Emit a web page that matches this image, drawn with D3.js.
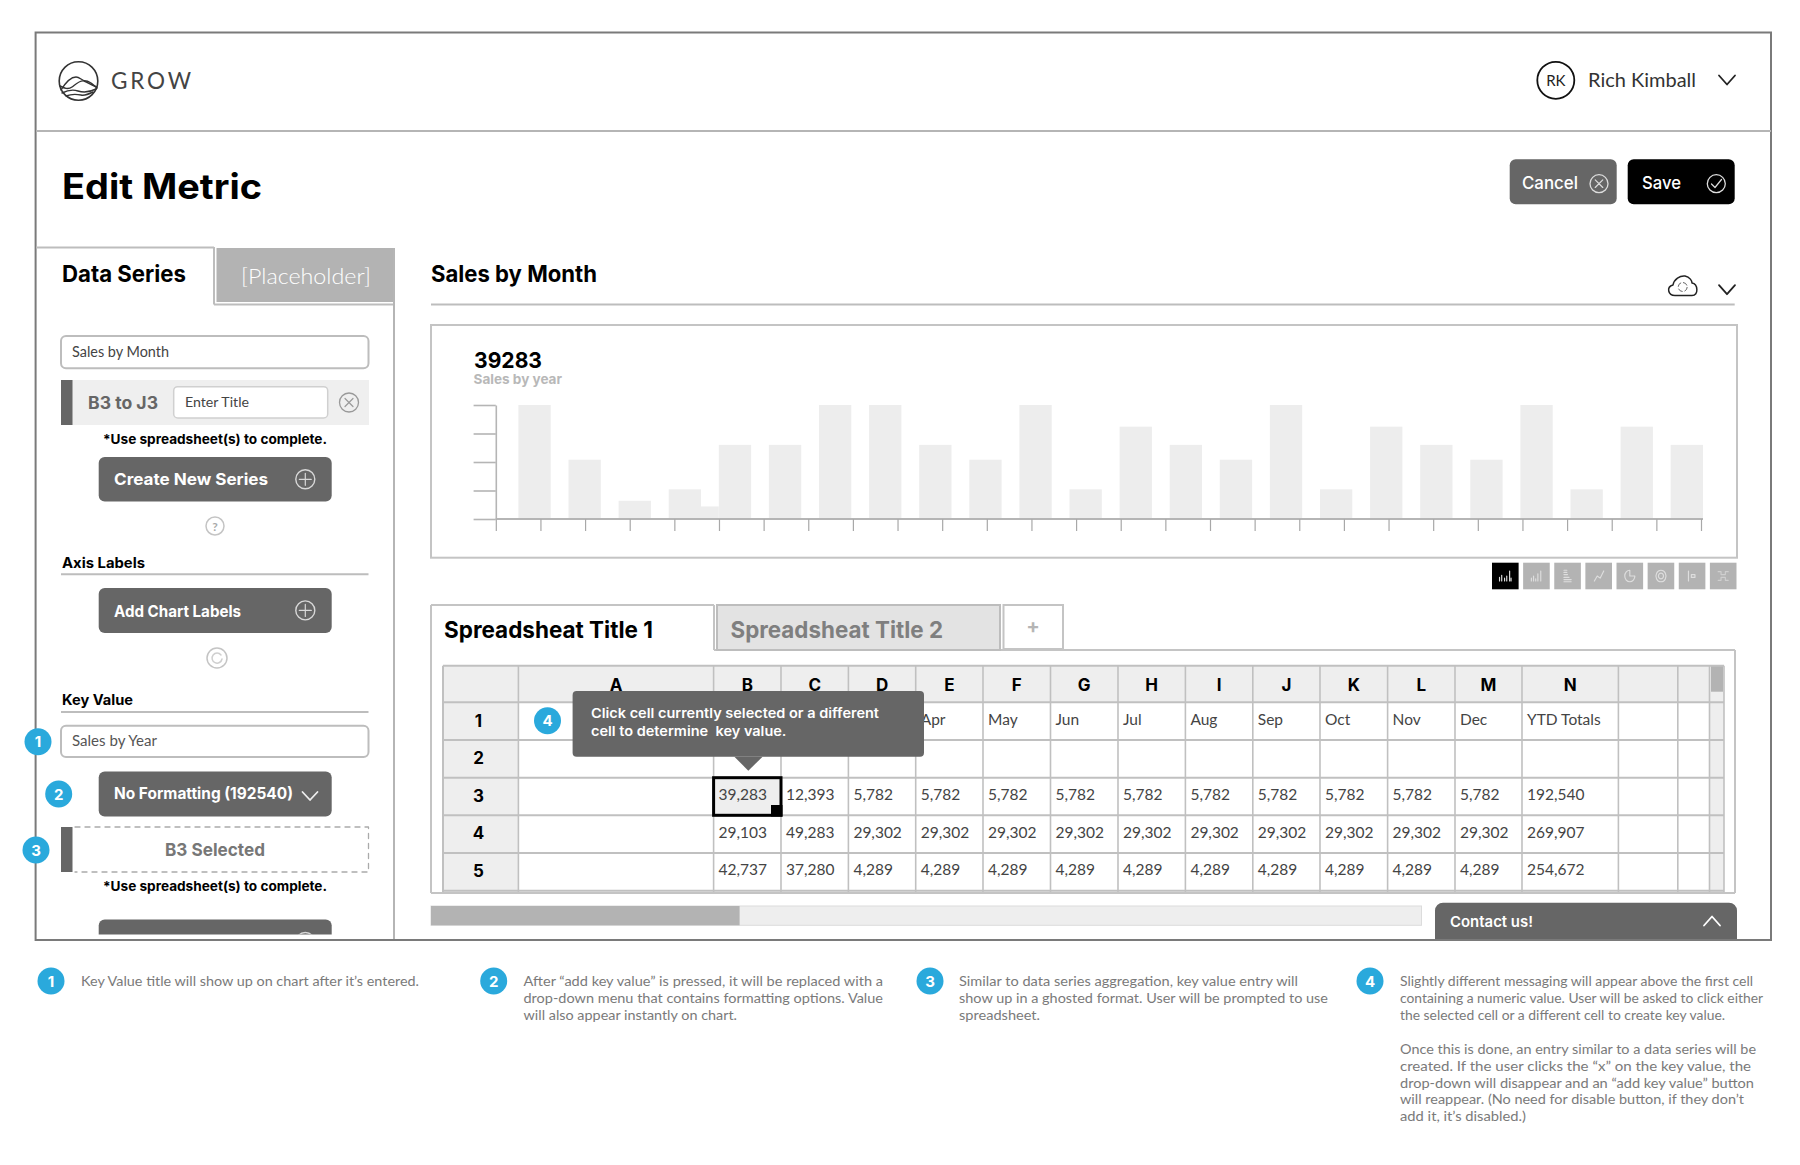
<!DOCTYPE html>
<html>
<head>
<meta charset="utf-8">
<script src="https://cdnjs.cloudflare.com/ajax/libs/d3/7.8.5/d3.min.js"></script>
<style>html,body{margin:0;padding:0;background:#fff}svg{display:block}</style>
</head>
<body>
<svg id="c" width="1800" height="1165" viewBox="0 0 1800 1165"></svg>
<script>
// ---- data ----
const barIds = d3.range(24);
const barValues = [100,52,16,26,65,65,100,100,65,52,100,26,81,65,52,100,26,81,65,52,100,26,81,65];
const overlapBar = {after:3, value:11};
const yTickValues = [0,25,50,75,100];
const xTickIds = d3.range(28);
const columnLetters = ["A","B","C","D","E","F","G","H","I","J","K","L","M","N","",""];
const rowLabels = ["1","2","3","4","5"];
const monthCells = {E:"Apr",F:"May",G:"Jun",H:"Jul",I:"Aug",J:"Sep",K:"Oct",L:"Nov",M:"Dec",N:"YTD Totals"};
const row3 = ["39,283","12,393","5,782","5,782","5,782","5,782","5,782","5,782","5,782","5,782","5,782","5,782"];
const row4 = ["29,103","49,283","29,302","29,302","29,302","29,302","29,302","29,302","29,302","29,302","29,302","29,302"];
const row5 = ["42,737","37,280","4,289","4,289","4,289","4,289","4,289","4,289","4,289","4,289","4,289","4,289"];
const totals = {3:"192,540",4:"269,907",5:"254,672"};
const noteTexts = [
 {n:"1",lines:[["Key Value title will show up on chart after it’s entered.",419]]},
 {n:"2",lines:[["After “add key value” is pressed, it will be replaced with a",883],["drop-down menu that contains formatting options. Value",883],["will also appear instantly on chart.",737]]},
 {n:"3",lines:[["Similar to data series aggregation, key value entry will",1298],["show up in a ghosted format. User will be prompted to use",1328],["spreadsheet.",1040]]},
 {n:"4",lines:[["Slightly different messaging will appear above the first cell",1753],["containing a numeric value. User will be asked to click either",1763],["the selected cell or a different cell to create key value.",1725],null,["Once this is done, an entry similar to a data series will be",1756],["created. If the user clicks the “x” on the key value, the",1751],["drop-down will disappear and an “add key value” button",1754],["will reappear. (No need for disable button, if they don’t",1744],["add it, it’s disabled.)",1526]]}
];

// ---- layout ----
const svg = d3.select("#c");
const DARK="#666666", MID="#b3b3b3", LINE="#bdbdbd", PALE="#eeeeee", BLUE="#2aa9dc";
const HEAD="Inter, Lato, sans-serif", BODY="Lato, sans-serif";

function R(x0,y0,x1,y1,fill,o={}){return svg.append("rect").attr("x",x0).attr("y",y0).attr("width",x1-x0).attr("height",y1-y0)
  .attr("rx",o.r||0).attr("fill",fill).attr("stroke",o.s||"none").attr("stroke-width",o.w||1).attr("stroke-dasharray",o.d||null);}
function L(x0,y0,x1,y1,s=LINE,w=2,d=null){return svg.append("line").attr("x1",x0).attr("y1",y0).attr("x2",x1).attr("y2",y1).attr("stroke",s).attr("stroke-width",w).attr("stroke-dasharray",d);}
function C(x,y,r,s,w=1.5,fill="none"){return svg.append("circle").attr("cx",x).attr("cy",y).attr("r",r).attr("stroke",s).attr("stroke-width",w).attr("fill",fill);}
function P(d,s,w=1.5,fill="none"){return svg.append("path").attr("d",d).attr("stroke",s).attr("stroke-width",w).attr("fill",fill).attr("stroke-linecap","round").attr("stroke-linejoin","round");}
function T(str,x,y,size,o={}){const e=svg.append("text").attr("x",x).attr("y",y).text(str).attr("font-size",size)
  .attr("font-family",o.f||BODY).attr("font-weight",o.b||400).attr("fill",o.c||"#000").attr("text-anchor",o.a||"start");
  if(o.x1){e.attr("textLength",o.x1-x).attr("lengthAdjust",o.adj||"spacingAndGlyphs");}
  return e;}
function chev(cx,cy,w,h,s="#222",up=false,sw=1.8){const k=up?-1:1;P(`M${cx-w/2},${cy-k*h/2}L${cx},${cy+k*h/2}L${cx+w/2},${cy-k*h/2}`,s,sw);}
function plus(cx,cy){C(cx,cy,9.5,"#d8d8d8",1.4);P(`M${cx-6},${cy}H${cx+6}M${cx},${cy-6}V${cy+6}`,"#d8d8d8",1.2);}
function cross(cx,cy,r,s){C(cx,cy,r,s,1.3);const q=r*0.42;P(`M${cx-q},${cy-q}L${cx+q},${cy+q}M${cx+q},${cy-q}L${cx-q},${cy+q}`,s,1.2);}
function badge(cx,cy,n){C(cx,cy,13.5,"none",0,BLUE);T(n,cx,cy+5.5,15,{f:HEAD,b:700,c:"#fff",a:"middle"});}

// page frame
R(35.6,32.5,1771,940,"#fff",{s:"#7a7a7a",w:2});
L(36,131,1771,131,"#b5b5b5",2);

// logo
C(78.5,81,19.3,"#333",1.6);
P("M61,90C66,82 71,77 76,77C80,77 82,81 86,81C90,81 93,85 97,88","#333",1.4);
P("M60,86C64,88 68,90 72,87C76,84 80,80 84,81C89,83 92,86 97,87","#333",1.4);
P("M62,93C68,90 72,89 78,91C84,93 90,92 96,89","#333",1.4);
P("M66,96C71,94 76,94 81,95C85,96 89,94 93,92","#333",1.4);
T("GROW",111,89,22.5,{c:"#444",x1:191,adj:"spacing"});

// user
C(1555.8,80.3,18.5,"#111",1.8);
T("RK",1555.8,85.5,15,{a:"middle",c:"#222"});
T("Rich Kimball",1588,87,19,{c:"#333",x1:1696});
chev(1727,80,16,9);

// title + buttons
T("Edit Metric",62,199,35,{f:HEAD,b:700,x1:262});
R(1509.7,159.3,1616.7,204.3,DARK,{r:6});
T("Cancel",1522,188.5,17.5,{f:HEAD,b:500,c:"#fff",x1:1578});
cross(1599,183.7,9,"#ddd");
R(1627.7,159.3,1734.7,204.3,"#000",{r:6});
T("Save",1642,188.5,17.5,{f:HEAD,b:500,c:"#fff",x1:1681});
C(1716.3,183.7,9,"#ddd",1.3);
P("M1711.5,184L1715,187.5L1721.5,179.5","#ddd",1.2);

// left panel outline + tabs
R(216.5,248,394,302,MID);
L(36,247.5,214,247.5,"#bdbdbd",2);
L(214,247,214,304.5,"#bdbdbd",2);
L(214,304.5,394,304.5,"#bdbdbd",2);
L(394,248,394,940,"#b5b5b5",2);
T("Data Series",62,282,23,{f:HEAD,b:700,x1:186});
T("[Placeholder]",241,284,22,{c:"#fff",b:300,x1:371});

// series block
R(61,336,368.5,368.3,"#fff",{r:5,s:LINE,w:2});
T("Sales by Month",72,357,14.5,{c:"#444",x1:169});
R(61,380,369,425,"#efefef");
R(61,380,72.5,425,DARK);
T("B3 to J3",88,408.5,17,{f:HEAD,b:700,c:DARK,x1:158});
R(173.7,386.7,327.7,418,"#fff",{r:4,s:"#d0d0d0",w:1.5});
T("Enter Title",185,406.5,13.5,{c:"#444",x1:249});
cross(349,402.5,9.5,"#999");
T("*Use spreadsheet(s) to complete.",103,443.6,13.5,{f:HEAD,b:700,x1:327});
R(98.7,457,331.7,501.4,DARK,{r:6});
T("Create New Series",114,484.5,16,{f:HEAD,b:700,c:"#fff",x1:268});
plus(305.3,479.3);
C(215,526,9,"#c4c4c4",1.5);
T("?",215,530.5,12,{a:"middle",c:"#aaa",b:700});

T("Axis Labels",62,568,14.5,{f:HEAD,b:700,x1:145});
L(61,574.3,368.5,574.3,LINE,2);
R(98.7,588,331.7,633,DARK,{r:6});
T("Add Chart Labels",114,616.8,16,{f:HEAD,b:700,c:"#fff",x1:241});
plus(305.3,610.4);
C(217,658,10,"#c4c4c4",1.5);
P("M221,655A5,5 0 1 0 222,659","#cfcfcf",1.5);

T("Key Value",62,705,14.5,{f:HEAD,b:700,x1:133});
L(61,712,368.5,712,LINE,2);
R(61,725.7,368.5,757,"#fff",{r:5,s:LINE,w:2});
T("Sales by Year",72,745.7,14.5,{c:"#555",x1:157});
R(98.7,771.4,331.7,816.4,DARK,{r:6});
T("No Formatting (192540)",114,799,16,{f:HEAD,b:700,c:"#fff",x1:293});
chev(310,796,15,8,"#eee");
R(61,827,72.5,872,DARK);
P("M75,827H368.5V872H75","#aaa",1.3).attr("stroke-dasharray","5 5");
T("B3 Selected",165,855.5,18,{f:HEAD,b:700,c:"#777",x1:265});
T("*Use spreadsheet(s) to complete.",103,891,13.5,{f:HEAD,b:700,x1:327});
// clipped button at the panel foot
svg.append("clipPath").attr("id","foot").append("rect").attr("x",90).attr("y",910).attr("width",250).attr("height",24.6);
R(98.7,919.6,331.7,964,DARK,{r:6}).attr("clip-path","url(#foot)");
C(305.3,942,9.5,"#d8d8d8",1.4).attr("clip-path","url(#foot)");
badge(38,741.8,"1");
badge(58.7,794,"2");
badge(36,850,"3");

// chart heading
T("Sales by Month",431,282,23,{f:HEAD,b:700,x1:597});
L(431,304.5,1734.7,304.5,LINE,2);
P("M1675,295.5C1668,295.5 1666,287 1673,285C1674,279 1680,275.5 1685,276C1690,277 1692,281 1692,283C1698,284 1699,295.5 1692,295.5Z","#222",1.5);
C(1682.7,287,4.5,"#666",1).attr("stroke-dasharray","5 2");
chev(1727,289.7,16,9);

// chart box
R(431,325,1737,557.7,"#fff",{s:"#c4c4c4",w:2});
T("39283",474,367.7,22,{f:HEAD,b:700,x1:542});
T("Sales by year",473.6,384,13.5,{f:HEAD,b:700,c:"#b8b8b8",x1:562});

// bars through scales
const xBand = d3.scaleBand().domain(barIds).range([518.4,1703]).paddingInner(0.355);
const y = d3.scaleLinear().domain([0,100]).range([519,405]);
const chart = svg.append("g");
chart.selectAll("rect.bar").data(barIds).join("rect").attr("class","bar")
  .attr("x",d=>xBand(d)).attr("y",d=>y(barValues[d])).attr("width",xBand.bandwidth())
  .attr("height",d=>y(0)-y(barValues[d])).attr("fill","#ededed");
chart.append("rect").attr("x",xBand(overlapBar.after)+xBand.bandwidth()).attr("y",y(overlapBar.value))
  .attr("width",xBand.step()-xBand.bandwidth()).attr("height",y(0)-y(overlapBar.value)).attr("fill","#ededed");

const xTicks = d3.scalePoint().domain(xTickIds).range([495.8,1701]);
const gx = svg.append("g").attr("transform",`translate(0,${y(0)})`)
  .call(d3.axisBottom(xTicks).tickSize(12).tickSizeOuter(0).tickFormat(""));
gx.select(".domain").attr("d",`M${xTicks(0)},0H${xBand.range()[1]}`).attr("stroke","#b5b5b5").attr("stroke-width",2);
gx.selectAll(".tick line").attr("stroke","#a8a8a8").attr("stroke-width",1.2);
const gy = svg.append("g").attr("transform",`translate(${xTicks(0)},0)`)
  .call(d3.axisLeft(y).tickValues(yTickValues).tickSize(22.2).tickSizeOuter(0).tickFormat(""));
gy.select(".domain").attr("stroke","#b5b5b5").attr("stroke-width",1.6);
gy.selectAll(".tick line").attr("stroke","#b5b5b5").attr("stroke-width",1.6);

// chart-type buttons
const typeX = d3.scaleBand().domain(d3.range(8)).range([1492,1736.5]).paddingInner(0.145);
const glyphs = [
 "M-8,7V2M-5,7V-1M-1,7V3M2,7V0M6,7V-7M8,7V3",
 "M-7,7V3M-4,7V0M-1,7V4M2,7V-3M6,7V-7",
 "M-5,-8H-1M-5,-5H-1M-5,-2H0M-5,2H2M-5,5H5M-5,8H5",
 "M-6,7L-2,0L2,3L7,-7",
 "M0,-8A7,8 0 1 0 7,0H0Z",
 "M0,-8A7,8 0 1 0 .1,-8ZM0,-4A3.5,4 0 1 0 .1,-4Z",
 "M-5,-7V7M-1,-2H4V2H-1Z",
 "M-7,-6H-3V-2H3V-6H7M-7,6H-3V2H3V6H7"];
glyphs.forEach((g,i)=>{
  R(typeX(i),562.7,typeX(i)+typeX.bandwidth(),589.3,i?MID:"#000");
  P(g,i===7?"#cfcfcf":"#dedede",1.6).attr("transform",`translate(${typeX(i)+typeX.bandwidth()/2},576) scale(0.72)`);
});

// spreadsheet tabs
L(431,605,431,893,"#c4c4c4",2);
L(431,605,714,605,"#c4c4c4",2);
L(714,605,714,650,"#c4c4c4",2);
L(714,650,1735,650,"#c4c4c4",2);
L(1735,650,1735,893,"#c4c4c4",2);
L(431,893,1735,893,"#c4c4c4",2);
R(717,605,1000,650,"#e3e3e3",{s:"#bdbdbd",w:2});
R(1003.5,605,1063,649,"#fff",{s:"#c4c4c4",w:2});
T("Spreadsheat Title 1",444,638,23,{f:HEAD,b:700,x1:653});
T("Spreadsheat Title 2",730.5,638,23,{f:HEAD,b:700,c:"#7f7f7f",x1:943});
T("+",1033,633,20,{f:HEAD,b:700,c:"#b5b5b5",a:"middle"});

// spreadsheet grid
const colEdges = [518.4,713.6,781,848.4,915.7,983,1050.5,1118,1185.4,1252.8,1320,1387.6,1455,1522,1618.4,1677.8,1709.5];
const rowEdges = [702.3,740,777.7,815.3,853,890.7];
const colLeft = d3.scaleOrdinal().domain(d3.range(columnLetters.length)).range(colEdges);
const colRight = d3.scaleOrdinal().domain(d3.range(columnLetters.length)).range(colEdges.slice(1));
const rowBase = d3.scaleOrdinal().domain(rowLabels).range([725,762,800,838,875]);
const rowHeadBase = d3.scaleOrdinal().domain(rowLabels).range([727,764,802,839,877]);
const gridTop=665.7, headLeft=443, gridRight=1724, gridBottom=892;

R(headLeft,gridTop,1709.5,rowEdges[0],PALE);
R(headLeft,gridTop,colEdges[0],gridBottom,PALE);
R(1709.5,gridTop,gridRight,gridBottom,"#eeeeee");
R(1711,gridTop,1723,691.7,MID);
rowEdges.forEach(v=>L(headLeft,v,gridRight,v,"#c0c0c0",2));
L(headLeft,gridTop,gridRight,gridTop,"#c0c0c0",2);
L(headLeft,gridTop,headLeft,gridBottom,"#c0c0c0",2);
colEdges.forEach(v=>L(v,gridTop,v,gridBottom,"#c0c0c0",1.6));
L(gridRight,gridTop,gridRight,gridBottom,"#c0c0c0",1.6);

columnLetters.forEach((c,i)=>{ if(c) T(c,(colLeft(i)+colRight(i))/2,691,17,{f:HEAD,b:700,a:"middle"}); });
rowLabels.forEach(r=>T(r,478.5,rowHeadBase(r),17,{f:HEAD,b:700,a:"middle"}));
columnLetters.forEach((c,i)=>{ if(monthCells[c]) T(monthCells[c],colLeft(i)+5,rowBase("1"),15.5,{c:"#444"}); });

// selected cell fill sits under its value
R(colLeft(1),rowEdges[2],colRight(1),rowEdges[3],PALE);
[["3",row3],["4",row4],["5",row5]].forEach(([r,vals])=>{
  vals.forEach((v,i)=>T(v,colLeft(i+1)+5,rowBase(r),15.5,{c:"#444"}));
  T(totals[r],colLeft(13)+5,rowBase(r),15.5,{c:"#444"});
});
R(colLeft(1),rowEdges[2],colRight(1),rowEdges[3],"none",{s:"#000",w:3});
R(771,805,782.5,816.5,"#000");

// tooltip
R(572.6,691,924,756.7,DARK,{r:4});
svg.append("path").attr("d","M734.4,756.7L762.6,756.7L748.3,770.7Z").attr("fill",DARK);
T("Click cell currently selected or a different",591,718,13.5,{f:HEAD,b:600,c:"#fff",x1:879});
T("cell to determine  key value.",591,735.7,13.5,{f:HEAD,b:600,c:"#fff",x1:786.5}).attr("xml:space","preserve");
badge(547.5,720.7,"4");

// horizontal scrollbar and contact tab
R(431,906,1421.5,925.3,PALE,{s:"#dcdcdc",w:1});
R(431,906,739.6,925.3,MID);
P("M1435,940V910.7A8,8 0 0 1 1443,902.7H1729A8,8 0 0 1 1737,910.7V940Z","none",0,DARK);
T("Contact us!",1450,926.7,15,{f:HEAD,b:600,c:"#fff",x1:1533});
chev(1712,921,16,9,"#fff",true);
L(35.6,940,1771,940,"#7a7a7a",2);

// footnotes
const noteBadge = d3.scaleOrdinal().domain(["1","2","3","4"]).range([51,493.7,930,1370]);
const noteLeft = d3.scaleOrdinal().domain(["1","2","3","4"]).range([81,523.5,959,1400]);
const noteLine = [985.7,1002.7,1020,1037,1054,1071,1087.7,1104,1121];
noteTexts.forEach(n=>{
  badge(noteBadge(n.n),981,n.n);
  n.lines.forEach((l,i)=>{ if(l) T(l[0],noteLeft(n.n),noteLine[i],13.5,{c:"#7a7a7a",x1:l[1]}); });
});
</script>
</body>
</html>
